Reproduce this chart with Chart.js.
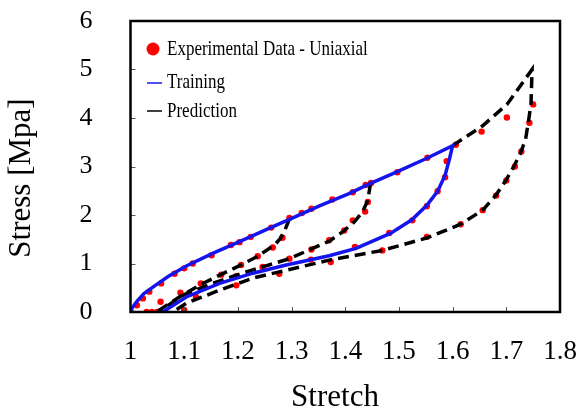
<!DOCTYPE html>
<html>
<head>
<meta charset="utf-8">
<script src="https://cdn.jsdelivr.net/npm/chart.js@4.4.1/dist/chart.umd.min.js"></script>
<style>
  body { margin: 0; background: #fff; }
  canvas { display: block; }
</style>
</head>
<body>
<canvas id="chart" width="578" height="414"></canvas>
<script>
// tick values
const xTicks = [1, 1.1, 1.2, 1.3, 1.4, 1.5, 1.6, 1.7, 1.8];
const yTicks = [0, 1, 2, 3, 4, 5, 6];

// experimental data - uniaxial (stretch, stress)
const expStretch = [1.000, 1.012, 1.023, 1.035, 1.057, 1.082, 1.100, 1.116, 1.151, 1.187, 1.203, 1.224, 1.262, 1.296, 1.319, 1.337, 1.376, 1.414, 1.438, 1.448, 1.497, 1.553, 1.606,
  1.654, 1.701, 1.750,
  1.743, 1.728, 1.716, 1.700, 1.681, 1.656, 1.615, 1.552, 1.469, 1.373, 1.336, 1.277, 1.197, 1.122, 1.100,
  1.589, 1.586, 1.572, 1.552, 1.525, 1.482, 1.418,
  1.442, 1.437, 1.414, 1.398, 1.370, 1.337, 1.296, 1.246, 1.197,
  1.283, 1.265, 1.237, 1.206, 1.169, 1.131, 1.093, 1.056,
  1.030, 1.040, 1.050];
const expStress = [0.00, 0.14, 0.28, 0.42, 0.59, 0.79, 0.90, 1.00, 1.17, 1.38, 1.44, 1.55, 1.74, 1.94, 2.04, 2.13, 2.32, 2.47, 2.62, 2.66, 2.88, 3.18, 3.45,
  3.72, 4.01, 4.28,
  3.90, 3.31, 3.00, 2.71, 2.40, 2.10, 1.81, 1.55, 1.27, 1.03, 1.08, 0.79, 0.55, 0.31, 0.04,
  3.11, 2.78, 2.49, 2.18, 1.89, 1.63, 1.34,
  2.27, 2.07, 1.89, 1.68, 1.48, 1.29, 1.10, 0.93, 0.74,
  1.53, 1.33, 1.15, 0.97, 0.77, 0.59, 0.40, 0.21,
  0.00, 0.00, 0.00];

// training (loading to 1.6 and unloading)
const trainStretch = [1.000, 1.004, 1.012, 1.025, 1.045, 1.070, 1.104, 1.153, 1.203, 1.259, 1.296, 1.352, 1.407, 1.445, 1.494, 1.550, 1.600,
  1.594, 1.586, 1.572, 1.552, 1.524, 1.484, 1.420, 1.370, 1.290, 1.228, 1.166, 1.104, 1.060];
const trainStress = [0.00, 0.10, 0.22, 0.38, 0.54, 0.73, 0.95, 1.21, 1.45, 1.73, 1.91, 2.19, 2.44, 2.64, 2.88, 3.16, 3.43,
  3.15, 2.82, 2.49, 2.20, 1.90, 1.62, 1.31, 1.16, 0.97, 0.80, 0.59, 0.31, 0.00];

// prediction, unloading from 1.3
const pred1Stretch = [1.296, 1.288, 1.278, 1.268, 1.237, 1.206, 1.166, 1.128, 1.091, 1.048];
const pred1Stress = [1.92, 1.70, 1.50, 1.38, 1.15, 0.97, 0.76, 0.55, 0.31, 0.00];
// prediction, unloading from 1.45
const pred2Stretch = [1.447, 1.442, 1.432, 1.417, 1.395, 1.370, 1.339, 1.296, 1.246, 1.197, 1.150, 1.100, 1.052];
const pred2Stress = [2.65, 2.30, 2.06, 1.86, 1.65, 1.46, 1.31, 1.10, 0.93, 0.76, 0.58, 0.36, 0.00];
// prediction, loading 1.6 -> 1.75 and unloading
const pred3Stretch = [1.600, 1.656, 1.702, 1.748, 1.746, 1.741, 1.736, 1.727, 1.714, 1.699, 1.680, 1.656, 1.615, 1.553, 1.469, 1.370, 1.290, 1.228, 1.166, 1.104, 1.079];
const pred3Stress = [3.43, 3.84, 4.29, 5.00, 4.29, 3.91, 3.57, 3.29, 3.00, 2.71, 2.40, 2.10, 1.81, 1.53, 1.27, 1.07, 0.86, 0.70, 0.45, 0.18, 0.00];

const serif = "'Liberation Serif', 'Times New Roman', serif";
const red = '#ff0000';
const blue = '#1414ee';

function pts(xs, ys) {
  return xs.map((x, i) => ({ x: x, y: ys[i] }));
}

function predSet(xs, ys) {
  return {
    data: pts(xs, ys),
    showLine: true,
    borderColor: '#000',
    borderWidth: 3.5,
    borderDash: [11, 6],
    pointRadius: 0,
    tension: 0,
    order: 1
  };
}

function noPad(s) {
  s.paddingLeft = 0;
  s.paddingRight = 0;
  s.paddingTop = 0;
  s.paddingBottom = 0;
}

// frame, inner ticks, axis titles and legend
const decorations = {
  id: 'decorations',
  afterDatasetsDraw(chart) {
    const c = chart.ctx;
    const a = chart.chartArea;
    const xs = chart.scales.x, ys = chart.scales.y;
    c.save();
    c.strokeStyle = '#555';
    c.lineWidth = 1;
    xTicks.slice(1, -1).forEach(v => {
      const px = Math.round(xs.getPixelForValue(v)) + 0.5;
      c.beginPath(); c.moveTo(px, a.bottom); c.lineTo(px, a.bottom - 5); c.stroke();
    });
    yTicks.slice(1, -1).forEach(v => {
      const py = Math.round(ys.getPixelForValue(v)) + 0.5;
      c.beginPath(); c.moveTo(a.left, py); c.lineTo(a.left + 5, py); c.stroke();
    });
    c.strokeStyle = '#000';
    c.lineWidth = 2.5;
    c.strokeRect(a.left, a.top, a.right - a.left, a.bottom - a.top);

    // legend
    c.fillStyle = red;
    c.beginPath(); c.arc(153, 49, 6.5, 0, Math.PI * 2); c.fill();
    c.lineWidth = 1.5;
    c.strokeStyle = blue;
    c.beginPath(); c.moveTo(147, 83); c.lineTo(162, 83); c.stroke();
    c.strokeStyle = '#000';
    c.beginPath(); c.moveTo(147, 111); c.lineTo(162, 111); c.stroke();
    c.fillStyle = '#000';
    c.font = '21px ' + serif;
    c.textBaseline = 'alphabetic';
    const labels = [['Experimental Data - Uniaxial', 55], ['Training', 88], ['Prediction', 117]];
    labels.forEach(l => {
      c.save();
      c.translate(167, l[1]);
      c.scale(0.81, 1);
      c.fillText(l[0], 0, 0);
      c.restore();
    });

    // axis titles
    c.font = '31px ' + serif;
    c.textAlign = 'center';
    c.textBaseline = 'middle';
    c.fillText('Stretch', 335, 398);
    c.save();
    c.translate(22, 178);
    c.rotate(-Math.PI / 2);
    c.fillText('Stress [Mpa]', 0, 0);
    c.restore();
    c.restore();
  }
};

new Chart(document.getElementById('chart'), {
  type: 'scatter',
  data: {
    datasets: [
      {
        data: pts(trainStretch, trainStress),
        showLine: true,
        borderColor: blue,
        borderWidth: 3.5,
        pointRadius: 0,
        tension: 0,
        order: 0
      },
      predSet(pred1Stretch, pred1Stress),
      predSet(pred2Stretch, pred2Stress),
      predSet(pred3Stretch, pred3Stress),
      {
        data: pts(expStretch, expStress),
        showLine: false,
        pointRadius: 3.2,
        pointBackgroundColor: red,
        pointBorderWidth: 0,
        order: 5
      }
    ]
  },
  options: {
    responsive: false,
    animation: false,
    layout: { padding: { left: 0, right: 18, top: 21, bottom: 0 } },
    plugins: { legend: { display: false }, tooltip: { enabled: false } },
    scales: {
      x: {
        type: 'linear',
        min: 1,
        max: 1.8,
        afterFit(s) { s.height = 102; noPad(s); },
        afterBuildTicks(s) { s.ticks = xTicks.map(v => ({ value: v })); },
        grid: { display: false, drawTicks: false },
        border: { display: false },
        ticks: {
          padding: 24,
          color: '#000',
          font: { family: serif, size: 27 },
          maxRotation: 0,
          callback: v => String(+v.toFixed(1))
        }
      },
      y: {
        type: 'linear',
        min: 0,
        max: 6,
        afterFit(s) { s.width = 130.5; noPad(s); },
        afterBuildTicks(s) { s.ticks = yTicks.map(v => ({ value: v })); },
        grid: { display: false, drawTicks: false },
        border: { display: false },
        ticks: {
          padding: 38,
          color: '#000',
          font: { family: serif, size: 26 },
          callback: v => String(v)
        }
      }
    }
  },
  plugins: [decorations]
});
</script>
</body>
</html>
